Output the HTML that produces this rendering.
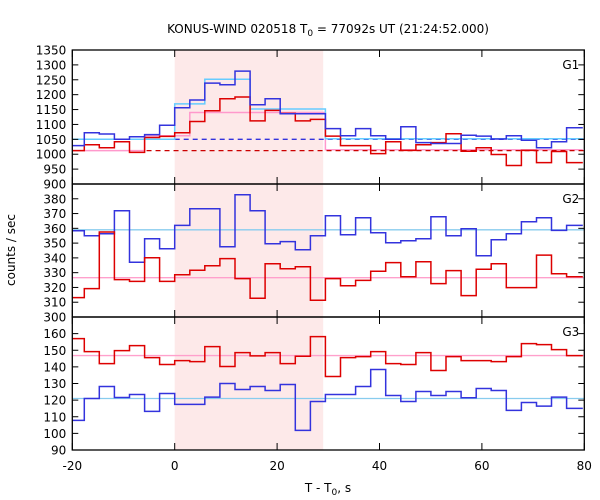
<!DOCTYPE html>
<html><head><meta charset="utf-8"><style>
body{margin:0;background:#fff}
svg{display:block;font-family:"DejaVu Sans","Liberation Sans",sans-serif}
</style></head><body>
<svg id="c" width="600" height="500" xmlns="http://www.w3.org/2000/svg">
<text x="328" y="33" font-size="12" text-anchor="middle">KONUS-WIND 020518 T<tspan font-size="9" dy="3">0</tspan><tspan dy="-3"> = 77092s UT (21:24:52.000)</tspan></text>
<text x="328" y="492" font-size="12" text-anchor="middle">T - T<tspan font-size="9" dy="3">0</tspan><tspan dy="-3">, s</tspan></text>
<text transform="translate(15,250) rotate(-90)" font-size="12" text-anchor="middle">counts / sec</text>
</svg>
<script>
const binWidth = 2.944;
const g1Blue = [1029,1072,1068,1050,1059,1066,1097,1156,1182,1239,1233,1279,1166,1186,1136,1136,1136,1086,1062,1086,1062,1050,1092,1039,1036,1036,1064,1061,1051,1062,1047,1022,1042,1089];
const g1Red = [1012,1032,1022,1042,1006,1056,1060,1072,1110,1146,1186,1192,1112,1147,1137,1112,1117,1061,1029,1029,1002,1042,1013,1032,1039,1069,1010,1022,999,962,1013,972,1009,972];
const g1Cyan = [1050,1050,1050,1050,1050,1050,1050,1169,1169,1252,1252,1252,1152,1152,1152,1152,1152,1052,1052,1052,1052,1052,1052,1052,1052,1052,1052,1052,1052,1052,1052,1052,1052,1052];
const g1Pink = [1012,1012,1012,1012,1012,1062,1062,1062,1140,1140,1140,1140,1140,1140,1140,1140,1140,1015,1015,1015,1015,1015,1015,1015,1015,1015,1015,1015,1015,1015,1015,1015,1015,1015];
const g2Blue = [358.4,355,356.4,371.9,337,353,346.2,362,373.2,373.2,347.6,382.7,371.9,349.6,351,345.5,355,368.5,355.7,367.2,357,350.3,351.6,353,367.8,355,359.7,341.5,352.3,356.4,364.5,367.2,358.6,362];
const g2Red = [313.1,319.2,357.5,325.3,324.1,340.1,324.1,328.6,331.6,334.7,339.5,326,312.7,336,332.7,334,311.3,326,321.2,324.8,330.9,336.8,327.3,337.4,322.6,331.4,314.5,332.3,336,319.9,319.9,341.9,329.3,327.3];
const g3Red = [157,149.2,142,149.8,152.8,145.6,141.4,143.8,143.2,152.2,140.2,148.6,146.6,148.6,142,146.4,158.2,134.2,145.6,146.2,149.2,142,141.4,148.6,137.8,146.2,143.8,143.8,143.2,146.2,154,153.4,150.4,146.8];
const g3Blue = [107.8,121,128.2,121.6,123.4,113.2,124,117.4,117.4,121.8,130,126.4,128.2,125.8,129.4,101.8,119.2,123.4,123.4,128.2,138.4,122.8,119.2,125.2,122.8,125.2,121.4,127,125.8,113.8,118.6,116.4,121.8,115];
const g1Ticks = [900,950,1000,1050,1100,1150,1200,1250,1300,1350];
const g2Ticks = [300,310,320,330,340,350,360,370,380];
const g3Ticks = [90,100,110,120,130,140,150,160];
const xTicks = [-20,0,20,40,60,80];
const g1BlueMean = 1050, g1RedMean = 1012;
const g2CyanLevel = 359, g2PinkLevel = 326.6;
const g3CyanLevel = 121, g3PinkLevel = 146.8;
const shadeStart = 0, shadeEnd = 29;

const NS="http://www.w3.org/2000/svg", svg=document.getElementById('c');
const L=72.3,R=584.3,X0=-20,X1=80;
const xs=t=>L+(t-X0)/(X1-X0)*(R-L);
function mk(tag,at,parent){const e=document.createElementNS(NS,tag);for(const k in at)e.setAttribute(k,at[k]);(parent||svg).appendChild(e);return e;}
const panels=[
 {name:'g1',top:50,bot:184,min:900,max:1350,ticks:g1Ticks},
 {name:'g2',top:184,bot:317,min:300,max:390,ticks:g2Ticks},
 {name:'g3',top:317,bot:450,min:90,max:170,ticks:g3Ticks}];
panels.forEach(p=>p.ys=v=>p.bot-(v-p.min)/(p.max-p.min)*(p.bot-p.top));
const sh=mk('rect',{x:xs(shadeStart),y:50,width:xs(shadeEnd)-xs(shadeStart),height:400,fill:'#fde9e9'});


function stepPath(vals,ys){let d='';for(let i=0;i<vals.length;i++){let a=Math.max(X0,(i-7)*binWidth),b=Math.min(X1,(i-6)*binWidth);if(i==vals.length-1)b=X1-0.3;const y=ys(vals[i]).toFixed(1);d+=(i?'L':'M')+xs(a).toFixed(1)+','+y+'L'+xs(b).toFixed(1)+','+y;}return d;}
function hline(p,v,a,b,color,dash,name){const e=mk('line',{x1:xs(a),x2:xs(b),y1:p.ys(v),y2:p.ys(v),stroke:color,'stroke-width':1.3});if(dash)e.setAttribute('stroke-dasharray',dash);}
function series(p,vals,color,name){const e=mk('path',{d:stepPath(vals,p.ys),fill:'none',stroke:color,'stroke-width':1.5});}
const [P1,P2,P3]=panels;
series(P1,g1Pink,'#ff99cc','g1-red-model');
hline(P1,g1RedMean,-5.5,X1,'#cc0000','5,4','g1-red-background');
hline(P1,g1BlueMean,0,X1,'#3333dd','5,4','g1-blue-background');
series(P1,g1Cyan,'#66ccff','g1-blue-model');
series(P1,g1Red,'#dd0000','g1-red-series');
series(P1,g1Blue,'#3333dd','g1-blue-series');
hline(P2,g2CyanLevel,X0,X1,'#88ccee',null,'g2-blue-level');
hline(P2,g2PinkLevel,X0,X1,'#ffa0cc',null,'g2-red-level');
series(P2,g2Blue,'#3333dd','g2-blue-series');
series(P2,g2Red,'#dd0000','g2-red-series');
hline(P3,g3CyanLevel,X0,X1,'#88ccee',null,'g3-blue-level');
hline(P3,g3PinkLevel,X0,X1,'#ffa0cc',null,'g3-red-level');
series(P3,g3Blue,'#3333dd','g3-blue-series');
series(P3,g3Red,'#dd0000','g3-red-series');
panels.forEach((p,i)=>{
 const fr=mk('rect',{x:L,y:p.top,width:R-L,height:p.bot-p.top,fill:'none',stroke:'#000','stroke-width':1.3});
 
 
 p.ticks.forEach(v=>{const y=p.ys(v);mk('line',{x1:L,x2:L+6,y1:y,y2:y,stroke:'#000'});mk('line',{x1:R-6,x2:R,y1:y,y2:y,stroke:'#000'});
  const t=mk('text',{x:L-6,y:y+4.5,'font-size':12,'text-anchor':'end'});t.textContent=v;
  
  });
 xTicks.forEach(v=>{const x=xs(v);mk('line',{x1:x,x2:x,y1:p.top,y2:p.top+7,stroke:'#000'});mk('line',{x1:x,x2:x,y1:p.bot-7,y2:p.bot,stroke:'#000'});});
 const g=mk('text',{x:R-5,y:p.top+19,'font-size':12,'text-anchor':'end'});g.textContent=['G1','G2','G3'][i];
 
 
});
xTicks.forEach(v=>{const t=mk('text',{x:xs(v),y:470,'font-size':12,'text-anchor':'middle'});t.textContent=v;
 
 });
</script>
</body></html>
